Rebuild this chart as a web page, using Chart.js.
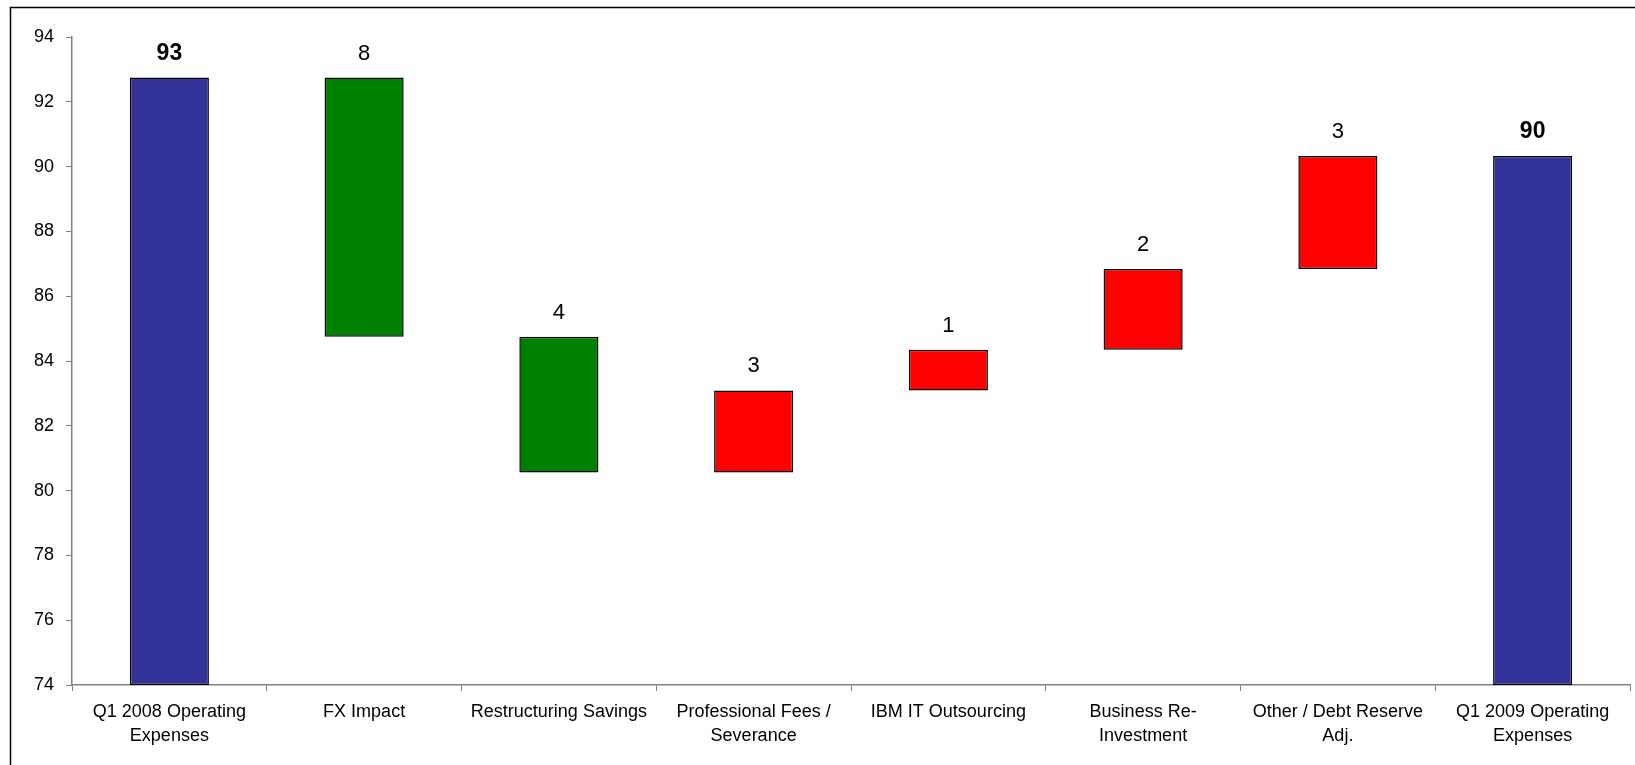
<!DOCTYPE html>
<html>
<head>
<meta charset="utf-8">
<script src="https://cdn.jsdelivr.net/npm/chart.js@4.4.1/dist/chart.umd.min.js"></script>
<style>
html,body{margin:0;padding:0;background:#fff;}
#wrap{width:1635px;height:765px;position:relative;}
</style>
</head>
<body>
<div id="wrap"><canvas id="c" width="1635" height="765"></canvas></div>
<script>
const categories = [
  ["Q1 2008 Operating", "Expenses"],
  "FX Impact",
  "Restructuring Savings",
  ["Professional Fees /", "Severance"],
  "IBM IT Outsourcing",
  ["Business Re-", "Investment"],
  ["Other / Debt Reserve", "Adj."],
  ["Q1 2009 Operating", "Expenses"]
];
const barLows  = [74,    84.75, 80.56, 80.56, 83.09, 84.35, 86.84, 74];
const barHighs = [92.75, 92.75, 84.75, 83.09, 84.35, 86.84, 90.33, 90.33];
const barKinds = ["total", "down", "down", "up", "up", "up", "up", "total"];
const valueLabels = ["93", "8", "4", "3", "1", "2", "3", "90"];
const yTicks = [74, 76, 78, 80, 82, 84, 86, 88, 90, 92, 94];

const kindColor = { total: "#333399", down: "#008000", up: "#FF0000" };
const FONT = "'Liberation Sans', Arial, sans-serif";

const frame = {
  id: "frame",
  afterDraw(chart) {
    const ctx = chart.ctx;
    ctx.save();
    ctx.strokeStyle = "#000";
    ctx.lineWidth = 1.5;
    ctx.strokeRect(10.5, 7.5, 3000, 3000);
    ctx.restore();
  }
};

const valueLabelPlugin = {
  id: "valueLabels",
  afterDatasetsDraw(chart) {
    const ctx = chart.ctx;
    const meta = chart.getDatasetMeta(0);
    ctx.save();
    ctx.textAlign = "center";
    ctx.textBaseline = "alphabetic";
    ctx.fillStyle = "#000";
    meta.data.forEach((bar, i) => {
      const total = barKinds[i] === "total";
      ctx.font = (total ? "bold 23px " : "22px ") + FONT;
      const top = Math.min(bar.y, bar.base);
      ctx.fillText(valueLabels[i], bar.x, top - (total ? 18 : 18));
    });
    ctx.restore();
  }
};

new Chart(document.getElementById("c"), {
  type: "bar",
  data: {
    labels: categories,
    datasets: [{
      data: barLows.map((lo, i) => [lo, barHighs[i]]),
      backgroundColor: barKinds.map(k => kindColor[k]),
      borderColor: "#000",
      borderWidth: 1.5,
      borderSkipped: false,
      categoryPercentage: 1,
      barPercentage: 0.406
    }]
  },
  options: {
    responsive: false,
    animation: false,
    devicePixelRatio: 1,
    layout: { padding: { top: 37, right: 5, bottom: 0, left: 0 } },
    plugins: { legend: { display: false }, tooltip: { enabled: false } },
    scales: {
      x: {
        offset: true,
        grid: { offset: true, drawOnChartArea: false, color: "#808080", tickLength: 6, tickColor: "#808080" },
        border: { color: "#808080", width: 1.5 },
        ticks: { color: "#000", font: { family: FONT, size: 18, lineHeight: 1.28 }, padding: 10, maxRotation: 0, autoSkip: false },
        afterFit(scale) { scale.height = 80; }
      },
      y: {
        min: 74, max: 94,
        afterBuildTicks(scale) { scale.ticks = yTicks.map(v => ({ value: v })); },
        grid: { drawOnChartArea: false, color: "#808080", tickLength: 6, tickColor: "#808080" },
        border: { color: "#808080", width: 1.5 },
        ticks: { color: "#000", font: { family: FONT, size: 18 }, padding: 12 },
        afterFit(scale) { scale.width = 72; }
      }
    }
  },
  plugins: [frame, valueLabelPlugin]
});
</script>
</body>
</html>
